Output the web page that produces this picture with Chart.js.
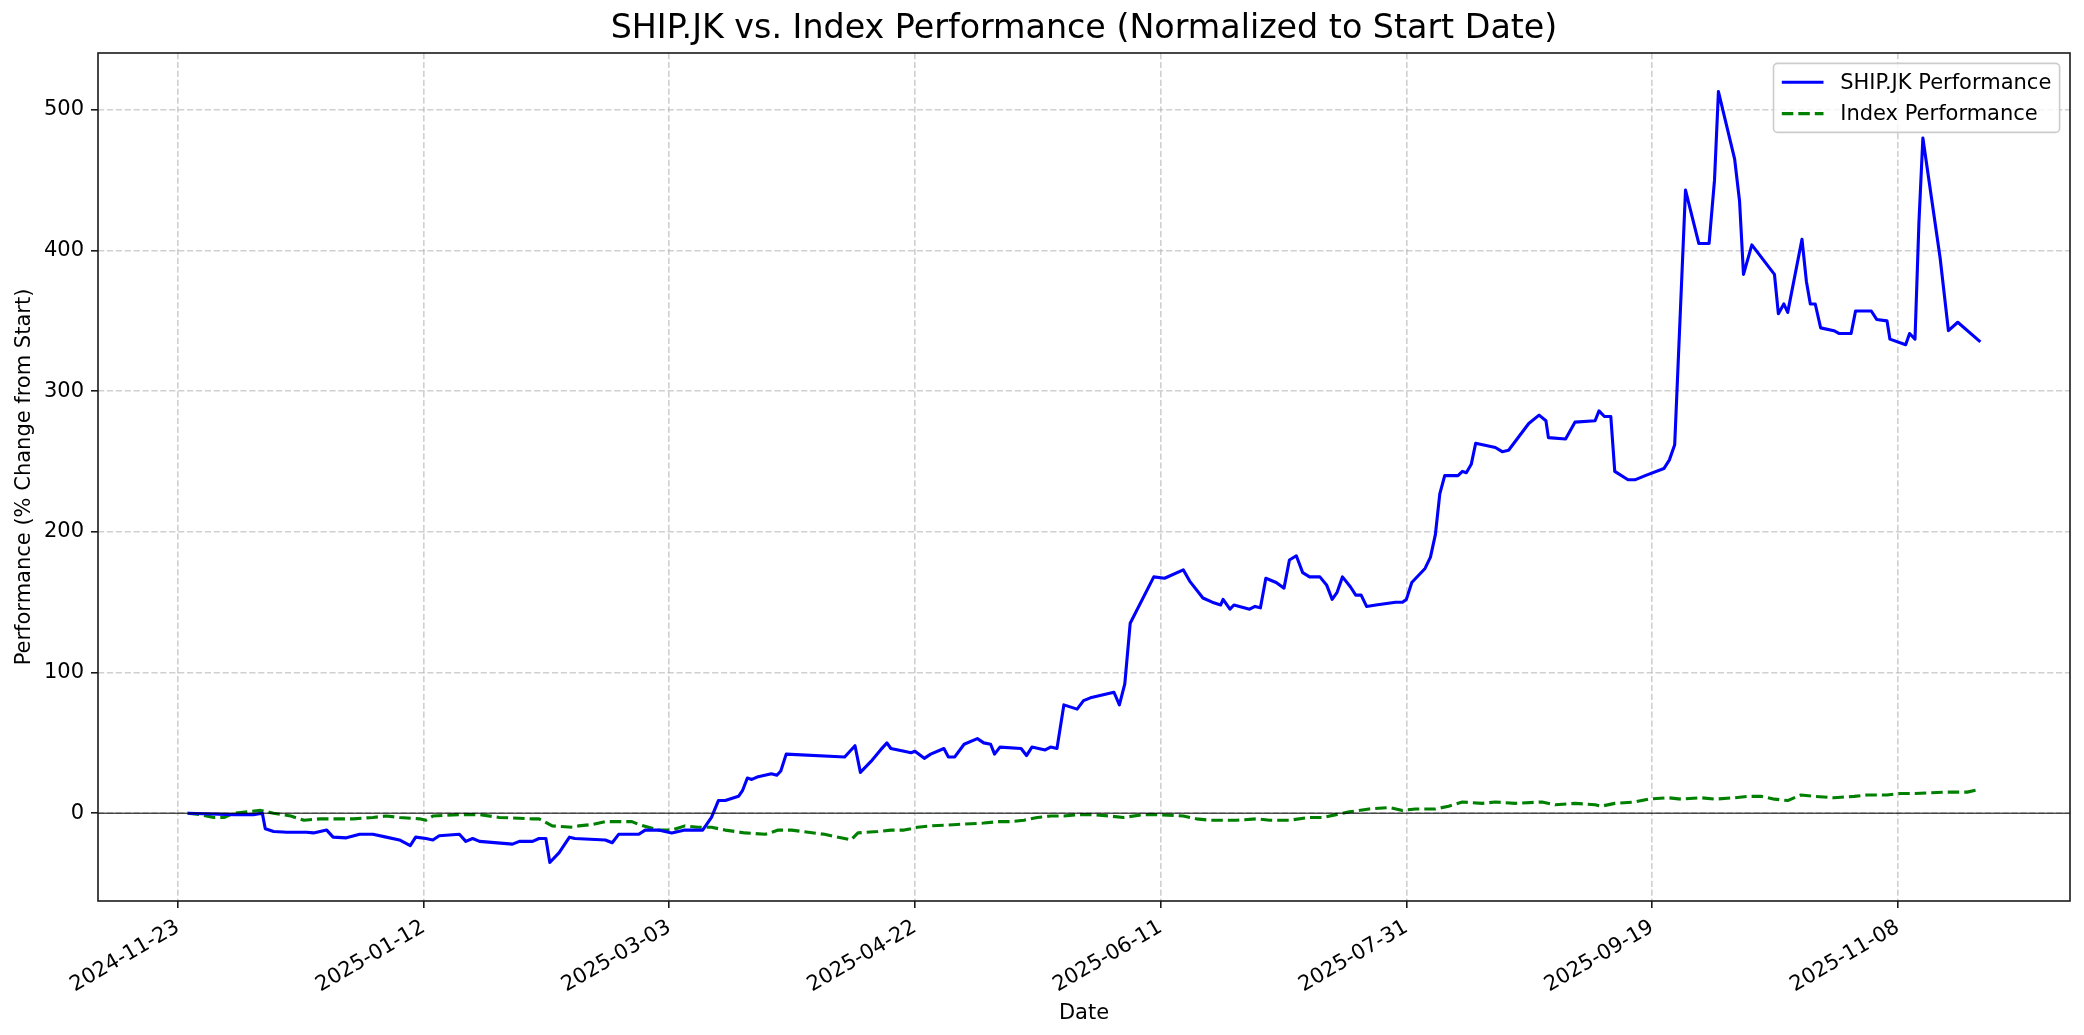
<!DOCTYPE html>
<html>
<head>
<meta charset="utf-8">
<title>SHIP.JK vs. Index Performance</title>
<script src="https://cdn.jsdelivr.net/npm/chart.js@4.4.1/dist/chart.umd.min.js"></script>
<style>
  html, body { margin: 0; padding: 0; background: #fff; }
  #chart { display: block; }
</style>
</head>
<body>
<canvas id="chart" width="2084" height="1035"></canvas>
<script>
// x values are days counted from startDate
const startDate = '2024-11-23'
const xTickLabels = ['2024-11-23', '2025-01-12', '2025-03-03', '2025-04-22', '2025-06-11', '2025-07-31', '2025-09-19', '2025-11-08']
const yTicks = [0, 100, 200, 300, 400, 500]
const seriesNames = ['SHIP.JK Performance', 'Index Performance']

const shipDay = [2, 11.4, 15.4, 17.2, 17.8, 19.5, 22.2, 26.2, 27.6, 30.3, 31.6, 34.3, 37, 39.7, 42.4, 45.1, 47.3, 48.4, 50.5, 51.9,
  53.2, 57.3, 58.6, 60, 61.4, 68.1, 69.5, 72.2, 73.5, 74.9, 75.7, 77.6, 79.7, 80.8, 87, 88.4, 89.7, 93.8, 95.1, 97.8,
  100.5, 103.2, 106.8, 108.6, 110, 111.4, 114.1, 114.9, 115.9, 116.8, 118.1, 120.8, 121.9, 122.7, 123.8, 135.7, 137.8, 138.9, 141.1, 143,
  144.3, 145.1, 147.8, 149.2, 150, 151.9, 153.2, 155.9, 156.8, 158.1, 160, 162.7, 164, 165.4, 166.2, 167.3, 171.6, 172.7, 173.8, 176.5,
  177.6, 178.9, 180.3, 183, 184.3, 185.7, 190.5, 191.6, 192.7, 193.8, 198.6, 200.8, 204.6, 205.9, 208.6, 210.5, 212.2, 212.7, 214.1, 214.9,
  218.1, 219.2, 220.3, 221.4, 223.5, 225.1, 226.2, 227.6, 228.9, 230.3, 232.4, 233.8, 234.9, 235.9, 237, 238.6, 239.7, 240.8, 241.9, 243.8,
  247.8, 249.2, 250, 251.1, 253.8, 254.9, 255.9, 256.8, 257.8, 260.5, 261.4, 262.2, 263.2, 264.1, 268.1, 269.5, 270.8, 274.9, 277, 278.4,
  278.9, 282.4, 284.3, 288.4, 289.2, 290.3, 291.6, 292.4, 295.1, 296.5, 298.6, 302.4, 303.5, 304.6, 306.8, 309.5, 311.6, 312.7, 313.5, 316.8,
  317.8, 318.6, 320.3, 324.9, 325.7, 326.8, 327.6, 330.5, 331.4, 332.2, 333.2, 334.3, 337, 338.1, 340.5, 341.4, 344.6, 345.7, 347.8, 348.4,
  351.6, 352.4, 353.5, 354.3, 355.1, 358.6, 360.3, 362.2, 366.8]
const shipPerf = [0, -1, -1, 0, -11, -13, -13.5, -13.5, -14, -12, -17, -17.5, -15, -15, -17, -19, -23, -17, -18, -19,
  -16, -15, -20, -18, -20, -22, -20, -20, -18, -18, -35, -28, -17, -18, -19, -21, -15, -15, -12, -12,
  -14, -12, -12, -3, 9, 9, 12, 16, 25, 24, 26, 28, 27, 30, 42, 40, 48, 29, 37, 45,
  50, 46, 44, 43, 44, 39, 42, 46, 40, 40, 49, 53, 50, 49, 42, 47, 46, 41, 47, 45,
  47, 46, 77, 74, 80, 82, 86, 77, 92, 135, 168, 167, 173, 165, 153, 150, 148, 152, 145, 148,
  145, 147, 146, 167, 164, 160, 180, 183, 171, 168, 168, 162, 152, 157, 168, 161, 155, 155, 147, 148,
  150, 150, 152, 164, 174, 182, 198, 227, 240, 240, 243, 242, 248, 263, 260, 257, 258, 277, 283, 279,
  267, 266, 278, 279, 286, 282, 282, 243, 237, 237, 240, 245, 251, 262, 443, 405, 405, 450, 513, 465,
  435, 383, 404, 383, 355, 362, 356, 408, 378, 362, 362, 345, 343, 341, 341, 357, 357, 351, 350, 337,
  333, 341, 337, 420, 480, 395, 343, 349, 335]

const indexDay = [2, 4.6, 7.3, 9.5, 11.4, 14.1, 16.8, 19.5, 23, 25.7, 28.9, 31.6, 35.7, 39.7, 42.4, 45.1, 49.2, 50.5, 51.9, 57.3,
  61.4, 65.4, 72.2, 73.5, 76.2, 80.3, 81.6, 84.3, 87, 92.4, 93.8, 97.8, 100.5, 103.2, 105.9, 108.6, 111.4, 115.4, 119.5, 122.2,
  124.9, 131.6, 135.7, 137, 138.4, 142.4, 145.1, 147.8, 150.5, 153.2, 158.6, 164, 166.8, 169.5, 172.2, 174.9, 177.6, 180.3, 183, 185.7,
  189.7, 192.4, 196.5, 199.2, 204.6, 207.3, 210, 215.4, 219.5, 222.2, 226.2, 230.3, 233, 235.7, 238.4, 242.4, 246.5, 249.2, 251.9, 255.9,
  258.6, 261.4, 265.4, 268.1, 272.2, 277.6, 280.3, 284.3, 288.4, 289.7, 292.4, 296.5, 299.2, 303.2, 305.9, 310, 312.7, 316.8, 319.5, 322.2,
  324.9, 327.6, 330.3, 333, 337, 341.1, 343.8, 347.8, 350.5, 353.2, 360, 364.1, 366.8]
const indexPerf = [0, -1, -3, -3, 0, 1, 2, 0, -2, -5, -4, -4, -4, -3, -2, -3, -4, -5, -2, -1,
  -1, -3, -4, -4, -9, -10, -9, -8, -6, -6, -8, -12, -12, -9, -10, -10, -12, -14, -15, -12,
  -12, -15, -18, -19, -14, -13, -12, -12, -10, -9, -8, -7, -6, -6, -5, -3, -2, -2, -1, -1,
  -2, -3, -1, -1, -2, -4, -5, -5, -4, -5, -5, -3, -3, -1, 1, 3, 4, 2, 3, 3,
  5, 8, 7, 8, 7, 8, 6, 7, 6, 5, 7, 8, 10, 11, 10, 11, 10, 11, 12, 12,
  10, 9, 13, 12, 11, 12, 13, 13, 14, 14, 15, 15, 17]

const DAY = 86400000
const toDay = s => (Date.parse(s) - Date.parse(startDate)) / DAY
const xTickValues = xTickLabels.map(toDay)

function fmtDay (v) {
  const d = new Date(Date.parse(startDate) + v * DAY)
  return d.toISOString().slice(0, 10)
}

// matplotlib-like 5% margins
const allX = shipDay.concat(indexDay)
const allY = shipPerf.concat(indexPerf)
const xMinD = Math.min(...allX), xMaxD = Math.max(...allX)
const yMinD = Math.min(...allY), yMaxD = Math.max(...allY)
const xPad = (xMaxD - xMinD) * 0.05
const yPad = (yMaxD - yMinD) * 0.05

const FONT = '"DejaVu Sans", "Liberation Sans", sans-serif'

const decor = {
  id: 'decor',
  afterDatasetsDraw (chart) {
    const { ctx, chartArea: a, scales: { y } } = chart
    ctx.save()
    const y0 = y.getPixelForValue(0)
    ctx.strokeStyle = '#000'
    ctx.lineWidth = 1
    ctx.beginPath()
    ctx.moveTo(a.left, y0)
    ctx.lineTo(a.right, y0)
    ctx.stroke()
    ctx.strokeStyle = '#1a1a1a'
    ctx.lineWidth = 1.6
    ctx.strokeRect(a.left, a.top, a.right - a.left, a.bottom - a.top)
    ctx.restore()
  },
  afterDraw (chart) {
    const { ctx, chartArea: a } = chart
    ctx.save()
    // title, centred over the axes
    ctx.fillStyle = '#000'
    ctx.font = '33.3px ' + FONT
    ctx.textAlign = 'center'
    ctx.textBaseline = 'middle'
    ctx.fillText('SHIP.JK vs. Index Performance (Normalized to Start Date)', (a.left + a.right) / 2, 29)

    // legend, upper right inside the axes
    ctx.font = '21px ' + FONT
    const ds = chart.data.datasets
    const pad = 8.3, handle = 41.7, gap = 16.7, rowH = 21, rowGap = 10.4
    const textW = Math.max(...ds.map(d => ctx.measureText(d.label).width))
    const w = pad + handle + gap + textW + pad
    const h = pad * 2 + rowH * ds.length + rowGap * (ds.length - 1)
    const right = a.right - 10.4
    const top = a.top + 10.4
    const left = right - w
    ctx.beginPath()
    ctx.roundRect(left, top, w, h, 4)
    ctx.fillStyle = 'rgba(255,255,255,0.8)'
    ctx.fill()
    ctx.strokeStyle = '#cccccc'
    ctx.lineWidth = 1.6
    ctx.stroke()
    ds.forEach((d, i) => {
      const cy = top + pad + rowH / 2 + i * (rowH + rowGap)
      ctx.strokeStyle = d.borderColor
      ctx.lineWidth = d.borderWidth
      ctx.setLineDash(d.borderDash || [])
      ctx.beginPath()
      ctx.moveTo(left + pad, cy)
      ctx.lineTo(left + pad + handle, cy)
      ctx.stroke()
      ctx.setLineDash([])
      ctx.fillStyle = '#000'
      ctx.textAlign = 'left'
      ctx.textBaseline = 'middle'
      ctx.fillText(d.label, left + pad + handle + gap, cy + 1)
    })
    ctx.restore()
  }
}

const gridStyle = {
  color: 'rgba(176,176,176,0.6)',
  lineWidth: 1.6,
  tickLength: 7,
  tickColor: '#1a1a1a',
  tickWidth: 1.6,
  tickBorderDash: [],
  drawTicks: true
}
// in Chart.js v4 the grid-line dash lives under border.dash
const borderStyle = { display: false, dash: [6.2, 2.7] }

const ctx = document.getElementById('chart')
const chart = new Chart(ctx, {
  type: 'line',
  data: {
    datasets: [
      {
        label: seriesNames[0],
        data: shipDay.map((d, i) => ({ x: d, y: shipPerf[i] })),
        borderColor: '#0000ff',
        borderWidth: 3.1,
        borderJoinStyle: 'round',
        pointRadius: 0,
        tension: 0,
        fill: false
      },
      {
        label: seriesNames[1],
        data: indexDay.map((d, i) => ({ x: d, y: indexPerf[i] })),
        borderColor: '#008000',
        borderWidth: 3.1,
        borderDash: [11.5, 5],
        borderJoinStyle: 'round',
        pointRadius: 0,
        tension: 0,
        fill: false
      }
    ]
  },
  options: {
    responsive: false,
    animation: false,
    devicePixelRatio: 1,
    layout: { padding: { top: 53, right: 14, left: 0, bottom: 0 } },
    plugins: {
      legend: { display: false },
      title: { display: false },
      tooltip: { enabled: false }
    },
    scales: {
      x: {
        type: 'linear',
        min: xMinD - xPad,
        max: xMaxD + xPad,
        afterBuildTicks: axis => { axis.ticks = xTickValues.map(v => ({ value: v })) },
        afterFit: scale => { scale.height = 134 },
        grid: gridStyle,
        border: borderStyle,
        ticks: {
          autoSkip: false,
          minRotation: 30,
          maxRotation: 30,
          padding: 7,
          color: '#000',
          font: { family: FONT, size: 21 },
          callback: v => fmtDay(v)
        },
        title: {
          display: true,
          text: 'Date',
          color: '#000',
          font: { family: FONT, size: 21 },
          padding: { top: 0, bottom: 9 }
        }
      },
      y: {
        min: yMinD - yPad,
        max: yMaxD + yPad,
        afterBuildTicks: axis => { axis.ticks = yTicks.map(v => ({ value: v })) },
        afterFit: scale => { scale.width = 98 },
        grid: gridStyle,
        border: borderStyle,
        ticks: {
          padding: 7,
          color: '#000',
          font: { family: FONT, size: 21 },
          callback: v => String(v)
        },
        title: {
          display: true,
          text: 'Performance (% Change from Start)',
          color: '#000',
          font: { family: FONT, size: 21 },
          padding: { top: 12, bottom: 0 }
        }
      }
    }
  },
  plugins: [decor]
})
</script>
</body>
</html>
